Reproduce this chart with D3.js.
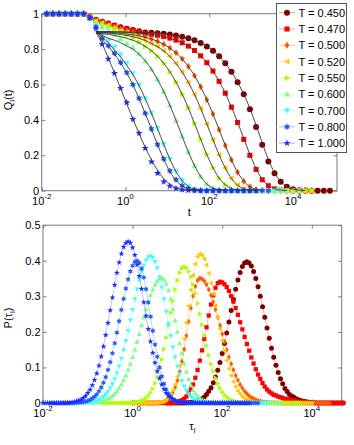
<!DOCTYPE html>
<html>
<head>
<meta charset="utf-8">
<script src="https://cdn.jsdelivr.net/npm/d3@7"></script>
<style>
  body { margin: 0; background: #fff; }
  svg text { font-family: "Liberation Sans", Arial, Helvetica, sans-serif; fill: #000; }
</style>
</head>
<body>
<script>
// ---- data -------------------------------------------------------------
const temps = ["0.450", "0.470", "0.500", "0.520", "0.550", "0.600", "0.700", "0.800", "1.000"];
const colors = ["#800000", "#ff0000", "#ff5a00", "#ffc800", "#aaff00", "#7dff8a", "#44ffff", "#2a5cff", "#1a2eff"];
const markers = ["circle", "square", "diamond", "triLeft", "triRight", "triUp", "triDown", "hexagram", "pentagram"];

// top panel: log10(t) of the sampled times
const logT = [-1.88, -1.733, -1.586, -1.439, -1.292, -1.145, -0.998, -0.851, -0.704, -0.557,
  -0.41, -0.263, -0.116, 0.031, 0.178, 0.325, 0.472, 0.619, 0.766, 0.913,
  1.06, 1.207, 1.354, 1.501, 1.648, 1.795, 1.942, 2.089, 2.236, 2.383,
  2.53, 2.677, 2.824, 2.971, 3.118, 3.265, 3.412, 3.559, 3.706, 3.853,
  4, 4.147, 4.294, 4.441, 4.588, 4.735, 4.882];

// Q_l(t), one array per temperature, starting at logT[0]
const qData = [
  [1,1,1,1,1,1,1,0.98,0.965,0.954,0.944,0.933,0.923,0.915,0.908,0.901,0.894,0.892,0.89,0.887,0.883,0.877,0.87,0.861,0.85,0.835,0.815,0.79,0.759,0.72,0.672,0.613,0.545,0.46,0.36,0.26,0.165,0.098,0.051,0.022,0.008,0.003,0.001,0,0,0,0],
  [1,1,1,1,1,1,1,0.979,0.963,0.953,0.942,0.931,0.92,0.912,0.904,0.896,0.887,0.883,0.878,0.871,0.862,0.851,0.836,0.817,0.792,0.762,0.723,0.676,0.618,0.551,0.472,0.385,0.29,0.2,0.12,0.062,0.028,0.01,0.003,0.001,0,0,0,0],
  [1,1,1,1,1,1,1,0.976,0.961,0.95,0.938,0.926,0.913,0.903,0.893,0.88,0.867,0.857,0.844,0.827,0.806,0.779,0.745,0.702,0.65,0.587,0.514,0.433,0.345,0.256,0.174,0.104,0.054,0.022,0.007,0.002,0,0,0,0,0,0,0,0],
  [1,1,1,1,1,1,1,0.975,0.959,0.947,0.934,0.921,0.907,0.894,0.882,0.867,0.849,0.832,0.814,0.79,0.759,0.719,0.67,0.612,0.543,0.465,0.377,0.288,0.202,0.128,0.069,0.032,0.011,0.003,0.001,0,0,0,0,0,0,0,0,0],
  [1,1,1,1,1,1,1,0.971,0.954,0.941,0.927,0.911,0.894,0.878,0.861,0.84,0.815,0.79,0.759,0.72,0.672,0.613,0.545,0.468,0.38,0.291,0.204,0.13,0.071,0.033,0.012,0.003,0.001,0,0,0,0,0,0,0,0,0,0,0],
  [1,1,1,1,1,1,1,0.975,0.945,0.924,0.905,0.884,0.859,0.833,0.81,0.775,0.733,0.686,0.628,0.56,0.483,0.397,0.307,0.219,0.142,0.08,0.038,0.015,0.005,0.001,0,0,0,0,0,0,0,0,0,0,0,0],
  [1,1,1,1,1,1,1,0.975,0.93,0.885,0.848,0.811,0.768,0.719,0.662,0.596,0.52,0.439,0.351,0.262,0.179,0.108,0.057,0.024,0.008,0.002,0,0,0,0,0,0,0,0,0,0,0,0,0],
  [1,1,1,1,1,1,1,0.975,0.925,0.86,0.819,0.776,0.724,0.667,0.599,0.521,0.437,0.349,0.26,0.18,0.112,0.062,0.029,0.012,0.004,0.001,0,0,0,0,0,0,0,0,0,0,0],
  [1,1,1,1,1,1,1,0.977,0.917,0.827,0.744,0.664,0.579,0.498,0.404,0.325,0.24,0.164,0.099,0.051,0.027,0.012,0.005,0.002,0.001,0,0,0,0,0,0,0,0,0,0]
];

// stretched-exponential fits (black), starting at logT[fitStart]
const fitStart = 8;
const qFit = [
  [0.899,0.899,0.899,0.898,0.898,0.897,0.896,0.895,0.894,0.892,0.89,0.887,0.883,0.877,0.87,0.861,0.85,0.835,0.815,0.79,0.759,0.72,0.672,0.613,0.545,0.465,0.37,0.27,0.175,0.102,0.052,0.023,0.009,0.003,0.001],
  [0.898,0.898,0.897,0.896,0.896,0.894,0.892,0.89,0.887,0.883,0.878,0.871,0.862,0.851,0.836,0.817,0.792,0.762,0.723,0.676,0.618,0.551,0.472,0.387,0.295,0.205,0.125,0.065,0.029,0.011,0.003,0.001],
  [0.896,0.895,0.893,0.892,0.889,0.885,0.881,0.875,0.867,0.857,0.844,0.827,0.806,0.779,0.745,0.702,0.65,0.587,0.514,0.433,0.345,0.256,0.174,0.104,0.054,0.022,0.007,0.002],
  [0.894,0.892,0.89,0.887,0.882,0.877,0.87,0.861,0.849,0.832,0.814,0.79,0.759,0.719,0.67,0.612,0.543,0.465,0.377,0.288,0.202,0.128,0.069,0.032,0.011,0.003,0.001],
  [0.89,0.887,0.883,0.877,0.87,0.861,0.85,0.835,0.815,0.79,0.759,0.72,0.672,0.613,0.545,0.468,0.38,0.291,0.204,0.13,0.071,0.033,0.012,0.003,0.001],
  [0.893,0.878,0.862,0.85,0.836,0.817,0.8,0.77,0.733,0.686,0.628,0.56,0.483,0.397,0.307,0.219,0.142,0.08,0.038,0.015,0.005,0.001],
  [0.9,0.87,0.835,0.795,0.755,0.708,0.655,0.594,0.52,0.439,0.351,0.262,0.179,0.108,0.057,0.024,0.008,0.002],
  [0.895,0.855,0.815,0.772,0.722,0.665,0.598,0.52,0.437,0.349,0.26,0.178,0.108,0.058,0.026,0.01,0.003,0.001],
  [0.9,0.83,0.75,0.665,0.577,0.49,0.405,0.322,0.245,0.175,0.115,0.068,0.036,0.016,0.006,0.002,0.001]
];

// bottom panel: log10(tau_l) histogram bins
const logTau = [-2,-1.95,-1.9,-1.85,-1.8,-1.75,-1.7,-1.65,-1.6,-1.55,-1.5,-1.45,-1.4,-1.35,-1.3,-1.25,-1.2,-1.15,-1.1,-1.05,
  -1,-0.95,-0.9,-0.85,-0.8,-0.75,-0.7,-0.65,-0.6,-0.55,-0.5,-0.45,-0.4,-0.35,-0.3,-0.25,-0.2,-0.15,-0.1,-0.05,
  0,0.05,0.1,0.15,0.2,0.25,0.3,0.35,0.4,0.45,0.5,0.55,0.6,0.65,0.7,0.75,0.8,0.85,0.9,0.95,
  1,1.05,1.1,1.15,1.2,1.25,1.3,1.35,1.4,1.45,1.5,1.55,1.6,1.65,1.7,1.75,1.8,1.85,1.9,1.95,
  2,2.05,2.1,2.15,2.2,2.25,2.3,2.35,2.4,2.45,2.5,2.55,2.6,2.65,2.7,2.75,2.8,2.85,2.9,2.95,
  3,3.05,3.1,3.15,3.2,3.25,3.3,3.35,3.4,3.45,3.5,3.55,3.6,3.65,3.7,3.75,3.8,3.85,3.9,3.95,
  4,4.05,4.1,4.15,4.2,4.25,4.3,4.35,4.4,4.45,4.5,4.55,4.6,4.65,4.7];

// index into logTau of each histogram's first bin
const pStart = [55, 46, 40, 35, 27, 20, 12, 3, 0];

// P(tau_l)
const pData = [
  [0,0,0,0,0,0,0,0,0,0.001,0.001,0.002,0.003,0.004,0.006,0.009,0.012,0.017,0.024,0.033,0.043,0.057,0.073,0.092,0.114,0.139,0.167,0.197,0.228,0.26,0.291,0.32,0.346,0.367,0.384,0.394,0.397,
   0.394,0.385,0.37,0.35,0.327,0.3,0.271,0.241,0.211,0.182,0.154,0.129,0.106,0.086,0.068,0.054,0.041,0.032,0.024,0.02,0.016,0.012,0.009,0.007,0.005,0.004,0.003,0.002,0.001,0.001,
   0,0,0,0,0,0,0,0,0,0,0,0,0],
  [0,0,0,0,0,0,0,0,0,0,0,0.001,0.001,0.002,0.003,0.005,0.008,0.012,0.018,0.027,0.038,0.052,0.071,0.093,0.119,0.148,0.18,0.213,0.246,0.277,0.303,0.324,0.337,0.341,
   0.339,0.334,0.326,0.315,0.301,0.285,0.267,0.248,0.227,0.207,0.186,0.166,0.147,0.128,0.111,0.095,0.08,0.068,0.056,0.046,0.038,0.032,0.027,0.023,0.021,0.018,0.016,0.014,0.012,0.011,0.009,0.008,0.006,0.005,0.004,0.003,0.003,0.002,0.001,0.001,0.001,
   0,0,0,0,0,0,0,0,0,0,0,0,0,0],
  [0,0,0,0,0,0,0,0,0,0,0,0.001,0.001,0.002,0.004,0.007,0.012,0.019,0.03,0.044,0.063,0.088,0.117,0.151,0.189,0.229,0.267,0.301,0.328,0.345,0.351,
   0.349,0.343,0.333,0.319,0.303,0.284,0.263,0.241,0.218,0.194,0.172,0.15,0.129,0.11,0.093,0.077,0.064,0.052,0.042,0.033,0.026,0.02,0.015,0.012,0.009,0.006,0.005,0.003,0.002,0.002,0.001,0.001,0.001,
   0,0,0,0,0,0,0,0,0,0,0,0,0,0,0,0,0,0,0,0,0,0,0,0,0],
  [0,0,0,0,0,0,0,0,0,0,0,0,0,0,0,0,0.001,0.002,0.003,0.005,0.009,0.015,0.023,0.035,0.053,0.075,0.104,0.14,0.181,0.226,0.273,0.318,0.359,0.391,0.412,0.419,
   0.415,0.405,0.388,0.365,0.337,0.307,0.274,0.241,0.208,0.176,0.147,0.12,0.097,0.077,0.06,0.046,0.034,0.025,0.018,0.013,0.009,0.006,0.004,0.003,0.002,0.001,0.001,
   0,0,0,0,0,0,0,0,0,0,0,0,0,0,0,0,0,0,0,0,0,0,0],
  [0,0,0,0,0,0,0,0,0,0,0,0,0,0.001,0.001,0.002,0.004,0.006,0.009,0.014,0.02,0.029,0.04,0.055,0.073,0.096,0.122,0.151,0.184,0.218,0.253,0.287,0.319,0.345,0.366,0.379,0.383,
   0.38,0.37,0.354,0.333,0.308,0.28,0.251,0.22,0.19,0.161,0.134,0.11,0.089,0.07,0.055,0.042,0.031,0.023,0.017,0.012,0.008,0.006,0.004,0.003,0.002,0.001,0.001,
   0,0,0,0,0,0,0,0,0,0,0,0,0,0,0,0,0,0,0,0,0,0,0,0,0],
  [0.001,0.001,0.001,0.002,0.002,0.003,0.005,0.006,0.009,0.012,0.015,0.02,0.026,0.033,0.042,0.052,0.064,0.077,0.093,0.11,0.129,0.15,0.172,0.194,0.218,0.241,0.263,0.284,0.303,0.319,0.333,0.343,0.349,0.351,
   0.347,0.335,0.317,0.292,0.263,0.232,0.2,0.168,0.139,0.111,0.088,0.067,0.05,0.037,0.027,0.019,0.013,0.009,0.006,0.004,0.002,0.001,0.001,
   0,0,0,0,0,0,0,0,0,0,0,0,0,0,0,0,0,0,0,0,0,0,0,0,0,0,0,0,0,0],
  [0,0,0,0,0,0,0.001,0.001,0.002,0.002,0.003,0.005,0.007,0.01,0.013,0.018,0.024,0.032,0.042,0.053,0.067,0.084,0.103,0.125,0.149,0.175,0.203,0.233,0.262,0.292,0.32,0.346,0.369,0.387,0.401,0.41,0.413,
   0.409,0.397,0.379,0.354,0.325,0.292,0.257,0.223,0.189,0.157,0.129,0.103,0.081,0.062,0.047,0.035,0.025,0.018,0.013,0.009,0.006,0.004,0.003,0.002,0.001,0.001,
   0,0,0,0,0,0,0,0,0,0,0,0,0,0,0,0,0,0,0,0,0,0,0,0,0,0],
  [0,0,0,0,0,0,0,0,0,0,0,0,0.001,0.001,0.002,0.003,0.004,0.006,0.009,0.013,0.018,0.024,0.033,0.044,0.057,0.073,0.093,0.115,0.14,0.168,0.198,0.23,0.262,0.293,0.322,0.348,0.37,0.386,0.397,0.4,
   0.394,0.378,0.353,0.32,0.283,0.243,0.203,0.164,0.13,0.1,0.075,0.054,0.038,0.026,0.018,0.011,0.007,0.004,0.003,0.002,0.001,
   0,0,0,0,0,0,0,0,0,0,0,0,0,0,0,0,0,0,0,0,0,0,0,0,0,0,0,0,0,0,0,0,0],
  [0,0,0,0,0,0,0,0,0,0,0.001,0.001,0.001,0.002,0.003,0.005,0.007,0.01,0.014,0.02,0.028,0.037,0.05,0.065,0.083,0.105,0.131,0.159,0.191,0.225,0.261,0.297,0.332,0.366,0.395,0.42,0.439,0.45,0.454,
   0.45,0.437,0.416,0.389,0.357,0.321,0.283,0.245,0.208,0.173,0.141,0.113,0.089,0.069,0.052,0.039,0.028,0.02,0.014,0.01,0.006,0.004,0.003,0.002,0.001,0.001,
   0,0,0,0,0,0,0,0,0,0,0,0,0,0,0,0,0,0,0,0,0,0,0,0,0,0,0,0]
];

const xTickExp = [-2, 0, 2, 4];
const qTicks = [0, 0.2, 0.4, 0.6, 0.8, 1];
const qTickLabels = ["0", "0.2", "0.4", "0.6", "0.8", "1"];
const pTicks = [0, 0.1, 0.2, 0.3, 0.4, 0.5];
const pTickLabels = ["0", "0.1", "0.2", "0.3", "0.4", "0.5"];

// ---- drawing ----------------------------------------------------------
const axisColor = "#7a7a7a";
const svg = d3.select("body").append("svg")
  .attr("width", 354).attr("height", 445);

function star(n, R, r) {
  const pts = [];
  for (let i = 0; i < 2 * n; i++) {
    const a = -Math.PI / 2 + i * Math.PI / n;
    const rad = i % 2 ? r : R;
    pts.push([rad * Math.cos(a), rad * Math.sin(a)]);
  }
  return pts;
}

function poly(pts) {
  return "M" + pts.map(p => p[0].toFixed(2) + "," + p[1].toFixed(2)).join("L") + "Z";
}

function markerPath(type, s) {
  const r = s / 2;
  switch (type) {
    case "circle": return d3.symbol(d3.symbolCircle, Math.PI * r * r)();
    case "square": return poly([[-r * .85, -r * .85], [r * .85, -r * .85], [r * .85, r * .85], [-r * .85, r * .85]]);
    case "diamond": return poly([[0, -r * 1.15], [r * .8, 0], [0, r * 1.15], [-r * .8, 0]]);
    case "triUp": return poly([[0, -r * 1.1], [r, r * .75], [-r, r * .75]]);
    case "triDown": return poly([[0, r * 1.1], [r, -r * .75], [-r, -r * .75]]);
    case "triLeft": return poly([[-r * 1.1, 0], [r * .75, -r], [r * .75, r]]);
    case "triRight": return poly([[r * 1.1, 0], [-r * .75, -r], [-r * .75, r]]);
    case "pentagram": return poly(star(5, r * 1.25, r * .5));
    case "hexagram": return poly(star(6, r * 1.15, r * .62));
  }
}

function powLabel(sel, x, y, exp) {
  const t = sel.append("text")
    .attr("x", x).attr("y", y)
    .attr("text-anchor", "middle")
    .attr("font-size", 11);
  t.append("tspan").text("10");
  t.append("tspan").attr("dy", -6).attr("font-size", 8).text(exp);
}

function frame(g, x, y, w, h, yTicks, yLabels) {
  const tk = 3.5;
  const ticks = [
    d3.axisBottom(x).tickValues(xTickExp.map(e => Math.pow(10, e))).tickSize(-tk).tickFormat(""),
    d3.axisTop(x).tickValues(xTickExp.map(e => Math.pow(10, e))).tickSize(-tk).tickFormat(""),
    d3.axisLeft(y).tickValues(yTicks).tickSize(-tk).tickFormat(""),
    d3.axisRight(y).tickValues(yTicks).tickSize(-tk).tickFormat("")
  ];
  const shifts = [[0, h], [0, 0], [0, 0], [w, 0]];
  ticks.forEach((ax, i) => {
    const a = g.append("g")
      .attr("transform", `translate(${shifts[i][0]},${shifts[i][1]})`)
      .call(ax);
    a.select(".domain").remove();
    a.selectAll("line").attr("stroke", axisColor);
  });
  g.append("rect")
    .attr("width", w).attr("height", h)
    .attr("fill", "none").attr("stroke", axisColor);

  xTickExp.forEach(e => powLabel(g, x(Math.pow(10, e)), h + 14.5, e));
  yTicks.forEach((v, i) => {
    g.append("text")
      .attr("x", -2.5).attr("y", y(v) + 4)
      .attr("text-anchor", "end")
      .attr("font-size", 11)
      .text(yLabels[i]);
  });
}

// ---- top panel: Q_l(t) ----
const topBox = { left: 41.7, top: 13.7, w: 295.3, h: 177 };
const gTop = svg.append("g").attr("transform", `translate(${topBox.left},${topBox.top})`);
const xT = d3.scaleLog().domain([0.01, Math.pow(10, 5.05)]).range([0, topBox.w]);
const yT = d3.scaleLinear().domain([0, 1]).range([topBox.h, 0]);

frame(gTop, xT, yT, topBox.w, topBox.h, qTicks, qTickLabels);

qData.forEach((vals, i) => {
  gTop.append("g").selectAll("path")
    .data(vals)
    .join("path")
    .attr("d", markerPath(markers[i], 6))
    .attr("transform", (d, k) => `translate(${xT(Math.pow(10, logT[k]))},${yT(d)})`)
    .attr("fill", colors[i]);
});

const fitLine = d3.line()
  .x((d, k) => xT(Math.pow(10, logT[k + fitStart])))
  .y(d => yT(d))
  .curve(d3.curveMonotoneX);

qFit.forEach(vals => {
  gTop.append("path")
    .attr("d", fitLine(vals))
    .attr("fill", "none")
    .attr("stroke", "#333")
    .attr("stroke-width", 0.9);
});

gTop.append("text")
  .attr("x", topBox.w / 2).attr("y", topBox.h + 25.5)
  .attr("text-anchor", "middle").attr("font-size", 11)
  .text("t");

const qLab = gTop.append("text")
  .attr("transform", `translate(${12 - topBox.left},${100 - topBox.top}) rotate(-90)`)
  .attr("text-anchor", "middle").attr("font-size", 11);
qLab.append("tspan").text("Q");
qLab.append("tspan").attr("font-size", 8).attr("dy", 3).text("l");
qLab.append("tspan").attr("dy", -3).text("(t)");

// legend
const leg = svg.append("g");
leg.append("rect")
  .attr("x", 276.5).attr("y", 3.5).attr("width", 70).attr("height", 149)
  .attr("fill", "#fff").attr("stroke", "#555");
temps.forEach((t, i) => {
  const yy = 12.7 + 16.3 * i;
  leg.append("line")
    .attr("x1", 279).attr("x2", 295).attr("y1", yy).attr("y2", yy)
    .attr("stroke", colors[i]).attr("stroke-opacity", 0.4).attr("stroke-width", 1);
  leg.append("path")
    .attr("d", markerPath(markers[i], 6))
    .attr("transform", `translate(287,${yy})`)
    .attr("fill", colors[i]);
  leg.append("text")
    .attr("x", 298.5).attr("y", yy + 4)
    .attr("font-size", 11)
    .text("T = " + t);
});

// ---- bottom panel: P(tau_l) ----
const botBox = { left: 43, top: 225.2, w: 298.7, h: 177.8 };
const gBot = svg.append("g").attr("transform", `translate(${botBox.left},${botBox.top})`);
const xB = d3.scaleLog().domain([0.01, Math.pow(10, 4.667)]).range([0, botBox.w]);
const yB = d3.scaleLinear().domain([0, 0.5]).range([botBox.h, 0]);

frame(gBot, xB, yB, botBox.w, botBox.h, pTicks, pTickLabels);

pData.forEach((vals, i) => {
  const xs = vals.map((d, k) => xB(Math.pow(10, logTau[pStart[i] + k])));
  const line = d3.line().x((d, k) => xs[k]).y(d => yB(d));
  gBot.append("path")
    .attr("d", line(vals))
    .attr("fill", "none")
    .attr("stroke", colors[i])
    .attr("stroke-opacity", 0.35)
    .attr("stroke-width", 0.8);
  gBot.append("g").selectAll("path")
    .data(vals)
    .join("path")
    .attr("d", markerPath(markers[i], 5))
    .attr("transform", (d, k) => `translate(${xs[k]},${yB(d)})`)
    .attr("fill", colors[i]);
});

const tauLab = gBot.append("text")
  .attr("x", botBox.w / 2).attr("y", botBox.h + 27)
  .attr("text-anchor", "middle").attr("font-size", 11);
tauLab.append("tspan").text("τ");
tauLab.append("tspan").attr("font-size", 8).attr("dy", 3).text("l");

const pLab = gBot.append("text")
  .attr("transform", `translate(${12 - botBox.left},${318 - botBox.top}) rotate(-90)`)
  .attr("text-anchor", "middle").attr("font-size", 11);
pLab.append("tspan").text("P(τ");
pLab.append("tspan").attr("font-size", 8).attr("dy", 3).text("l");
pLab.append("tspan").attr("dy", -3).text(")");
</script>
</body>
</html>
